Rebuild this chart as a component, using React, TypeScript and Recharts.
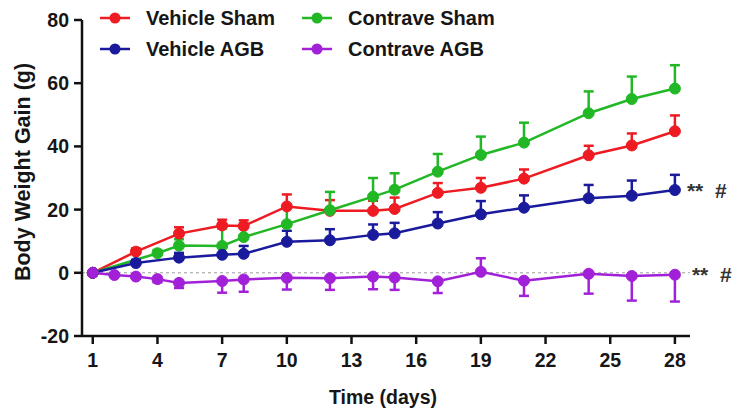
import { LineChart, Line, XAxis, YAxis, ErrorBar, ReferenceLine, ReferenceDot, Legend, Label } from "recharts"

const FONT = "'Liberation Sans', Arial, sans-serif"
const TEXT = "#161616"

// x positions (days) for each group
const vehicleDays = [1, 3, 5, 7, 8, 10, 12, 14, 15, 17, 19, 21, 24, 26, 28]
const contraveShamDays = [1, 4, 5, 7, 8, 10, 12, 14, 15, 17, 19, 21, 24, 26, 28]
const contraveAgbDays = [1, 2, 3, 4, 5, 7, 8, 10, 12, 14, 15, 17, 19, 21, 24, 26, 28]

// mean body weight gain (g)
const vehicleSham = [0, 6.7, 12.4, 15, 14.8, 21, 19.6, 19.6, 20.2, 25.3, 26.9, 29.8, 37.2, 40.3, 44.8]
const contraveSham = [0, 6.2, 8.6, 8.5, 11.3, 15.4, 19.8, 24.1, 26.3, 32, 37.3, 41.2, 50.5, 55, 58.3]
const vehicleAgb = [0, 3.1, 4.8, 5.7, 6.0, 9.8, 10.3, 12, 12.5, 15.6, 18.5, 20.6, 23.6, 24.4, 26.2]
const contraveAgb = [0, -0.7, -1.2, -2.0, -3.2, -2.6, -2.1, -1.6, -1.7, -1.2, -1.5, -2.7, 0.3, -2.5, -0.3, -1.0, -0.6]

// one-sided SEM bars: [below, above]
const vehicleShamErr = [0, 1.0, 2.0, 1.8, 1.8, 3.8, 3.4, 3.2, 3.6, 3.1, 3.1, 2.9, 3.0, 3.8, 5.0]
const contraveShamErr = [0, 1.0, 2.0, 5.5, 3.5, 5.5, 5.8, 5.9, 5.2, 5.6, 5.8, 6.3, 6.9, 7.1, 7.4]
const vehicleAgbErr = [0, 1.0, 1.5, 2.6, 2.5, 3.5, 3.5, 3.3, 3.3, 3.6, 4.2, 3.9, 4.2, 4.8, 4.8]
const contraveAgbErrDown = [0, 0, 0.5, 1.0, 1.6, 3.7, 3.9, 3.7, 3.7, 4.0, 3.9, 3.7, 0, 4.8, 6.3, 7.8, 8.5]
const contraveAgbErrUp = [0, 0, 0, 0, 0, 0, 0, 0, 0, 0, 0, 0, 4.3, 0, 0, 0, 0]

const xTicks = [1, 4, 7, 10, 13, 16, 19, 22, 25, 28]
const yTicks = [-20, 0, 20, 40, 60, 80]

const build = (days: number[], vals: number[], low: number[], high: number[]) =>
  days.map((day, i) => ({ day, value: vals[i], err: [low[i], high[i]] }))

const zeros = (n: number) => new Array(n).fill(0)

const series = [
  { name: "Vehicle Sham", color: "#ee1b22", data: build(vehicleDays, vehicleSham, zeros(15), vehicleShamErr) },
  { name: "Contrave Sham", color: "#22b825", data: build(contraveShamDays, contraveSham, zeros(15), contraveShamErr) },
  { name: "Vehicle AGB", color: "#1a1a9c", data: build(vehicleDays, vehicleAgb, zeros(15), vehicleAgbErr) },
  { name: "Contrave AGB", color: "#a221d8", data: build(contraveAgbDays, contraveAgb, contraveAgbErrDown, contraveAgbErrUp) },
]

const legendSlots = [
  { left: 98, top: 6 },
  { left: 300, top: 6 },
  { left: 98, top: 37 },
  { left: 300, top: 37 },
]

const tickStyle = { fill: TEXT, fontSize: 19.5, fontWeight: 700, fontFamily: FONT }

const ChartLegend = () => (
  <div style={{ position: "relative", width: 520, height: 64 }}>
    {series.map((s, i) => (
      <div
        key={s.name}
        style={{ position: "absolute", left: legendSlots[i].left, top: legendSlots[i].top, display: "flex", alignItems: "center" }}
      >
        <svg width={34} height={24}>
          <line x1={2} y1={12} x2={32} y2={12} stroke={s.color} strokeWidth={2.5} />
          <circle cx={17} cy={12} r={5.5} fill={s.color} />
        </svg>
        <span style={{ marginLeft: 14, fontFamily: FONT, fontWeight: 700, fontSize: 20, color: TEXT, whiteSpace: "nowrap" }}>
          {s.name}
        </span>
      </div>
    ))}
  </div>
)

const Stars = (props: any) => {
  const { viewBox, gap } = props
  const cx = viewBox.x + viewBox.width / 2 + gap
  const cy = viewBox.y + viewBox.height / 2
  return (
    <text x={cx} y={cy} dy="0.36em" fontSize={21} fill="#333" fontWeight={700} fontFamily={FONT}>
      {"**\u00a0\u00a0#"}
    </text>
  )
}

export default function App() {
  const last = (arr: number[]) => arr[arr.length - 1]
  return (
    <div style={{ position: "absolute", left: 0, top: 0, background: "#fff" }}>
      <LineChart width={738} height={412} margin={{ top: 20, right: 48, left: 0, bottom: 0 }}>
        <XAxis
          type="number"
          dataKey="day"
          domain={[0.5, 28.7]}
          allowDataOverflow
          ticks={xTicks}
          height={76}
          tickSize={8}
          tickMargin={9}
          axisLine={{ stroke: "#111", strokeWidth: 2.5 }}
          tickLine={{ stroke: "#111", strokeWidth: 2.5 }}
          tick={tickStyle}
        >
          <Label
            content={() => (
              <text x={383} y={404} textAnchor="middle" fill={TEXT} fontSize={19.5} fontWeight={700} fontFamily={FONT}>
                Time (days)
              </text>
            )}
          />
        </XAxis>
        <YAxis
          type="number"
          domain={[-20, 80]}
          ticks={yTicks}
          width={82}
          tickSize={8}
          tickMargin={5}
          axisLine={{ stroke: "#111", strokeWidth: 2.5 }}
          tickLine={{ stroke: "#111", strokeWidth: 2.5 }}
          tick={tickStyle}
        >
          <Label
            content={() => (
              <text
                transform="translate(23,172) rotate(-90)"
                textAnchor="middle"
                dominantBaseline="central"
                fill={TEXT}
                fontSize={21.5}
                fontWeight={700}
                fontFamily={FONT}
              >
                Body Weight Gain (g)
              </text>
            )}
          />
        </YAxis>
        <ReferenceLine y={0} stroke="#9a9a9a" strokeDasharray="3 3" strokeWidth={1} />
        {series.map((s) => (
          <Line
            key={s.name}
            data={s.data}
            dataKey="value"
            name={s.name}
            stroke={s.color}
            strokeWidth={2.5}
            dot={{ r: 5.5, fill: s.color, stroke: s.color, strokeWidth: 1 }}
            isAnimationActive={false}
          >
            <ErrorBar dataKey="err" direction="y" width={5} stroke={s.color} strokeWidth={2.5} />
          </Line>
        ))}
        <ReferenceDot x={28} y={last(vehicleAgb)} r={0} fill="none" stroke="none" label={<Stars gap={12} />} />
        <ReferenceDot x={28} y={last(contraveAgb)} r={0} fill="none" stroke="none" label={<Stars gap={17} />} />
        <Legend
          layout="vertical"
          align="center"
          verticalAlign="middle"
          wrapperStyle={{ position: "absolute", left: 0, top: 0, width: 520 }}
          content={() => <ChartLegend />}
        />
      </LineChart>
    </div>
  )
}
